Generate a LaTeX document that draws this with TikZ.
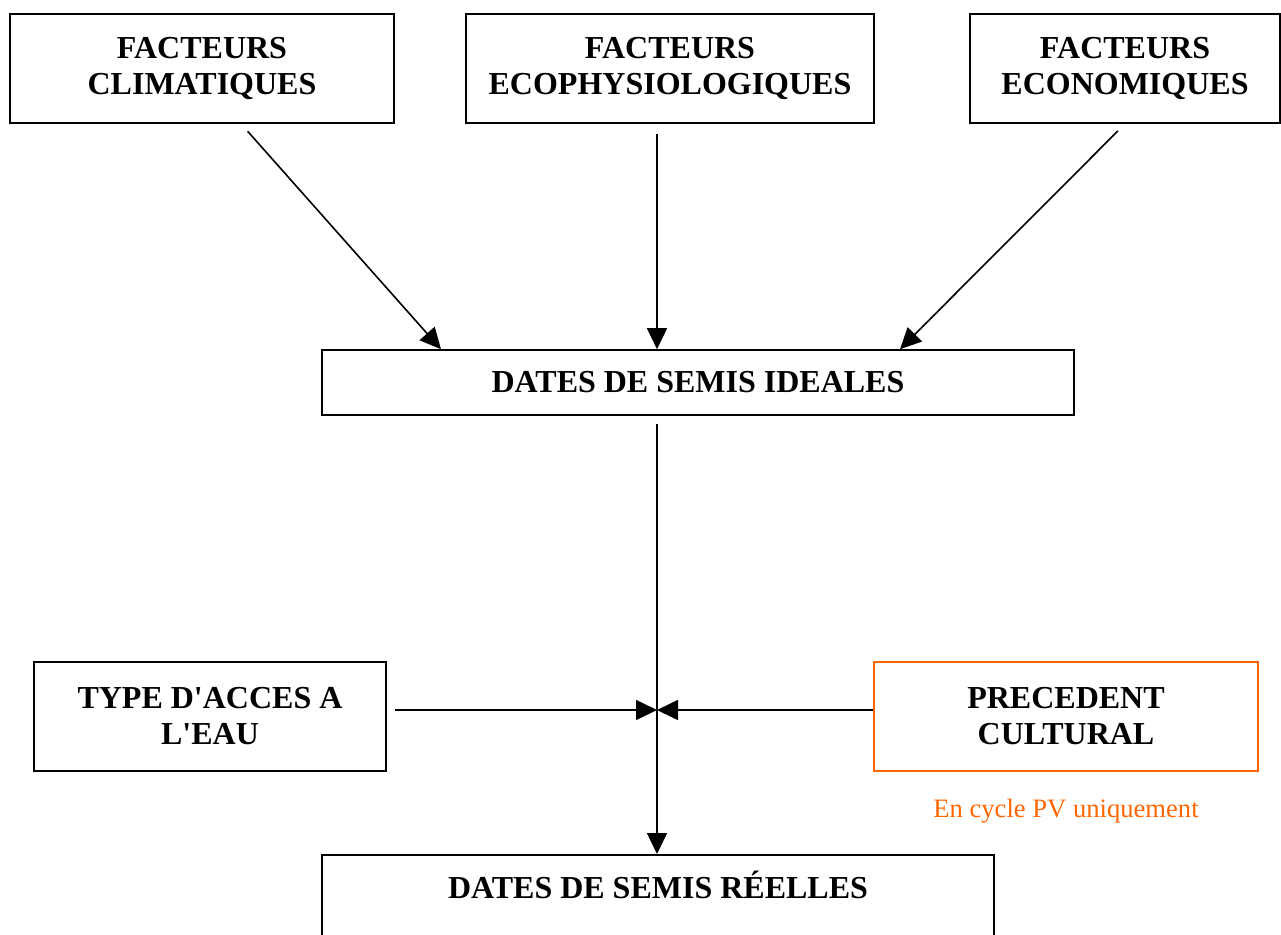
\documentclass[tikz,border=0pt]{standalone}
\usepackage{fontspec}
\setmainfont{Liberation Serif}
\usetikzlibrary{arrows.meta,calc}

\definecolor{orangepv}{HTML}{FF6600}

\tikzset{
  cadre/.style={draw, line width=1.6pt, inner sep=0pt, align=center,
    font=\bfseries\fontsize{32}{36}\selectfont},
  fleche/.style={line width=1.6pt, -{Triangle[length=21pt,width=20pt]}},
}

\begin{document}
\begin{tikzpicture}[x=1pt, y=-1pt]

\path[use as bounding box]
  (0,0) rectangle (1281,934);
\clip
  (0,0) rectangle (1281,934);

% les trois facteurs
\node[cadre, minimum width=384pt, minimum height=109pt]
  (clim) at (202,68.5) {FACTEURS\\CLIMATIQUES};

\node[cadre, minimum width=408pt, minimum height=109pt]
  (eco) at (670,68.5) {FACTEURS\\ECOPHYSIOLOGIQUES};

\node[cadre, minimum width=310pt, minimum height=109pt]
  (econ) at (1125,68.5) {FACTEURS\\ECONOMIQUES};

\node[cadre, minimum width=752pt, minimum height=65pt]
  (ideal) at (698,382.5) {DATES DE SEMIS IDEALES};

% contraintes
\node[cadre, minimum width=352pt, minimum height=109pt]
  (acces) at (210,716.5) {TYPE D\textquotesingle ACCES A\\L\textquotesingle EAU};

\node[cadre, draw=orangepv, minimum width=384pt, minimum height=109pt]
  (prec) at (1066,716.5) {PRECEDENT\\CULTURAL};

\node[text=orangepv, font=\fontsize{26.6}{30}\selectfont, anchor=base]
  (note) at (1066,817) {En cycle PV uniquement};

\node[cadre, minimum width=672pt, text height=44pt, text depth=150pt, anchor=north]
  (reel) at (658,854) {DATES DE SEMIS RÉELLES};

\coordinate
  (axe) at (657,710);

% fleches
\draw[fleche, shorten <=10pt]
  ($(clim.south)+(39,0)$)
  --
  ($(ideal.north)+(-257,0)$);

\draw[fleche, shorten <=10pt]
  (eco.south -| axe)
  --
  (ideal.north -| axe);

\draw[fleche, shorten <=10pt]
  (econ.south)
  --
  ($(ideal.north)+(202,0)$);

\draw[fleche, shorten <=8pt]
  (ideal.south -| axe)
  --
  (reel.north -| axe);

\draw[fleche, shorten <=8pt]
  (acces.east |- axe)
  --
  (axe);

\draw[fleche]
  (prec.west |- axe)
  --
  (axe);

\end{tikzpicture}
\end{document}
